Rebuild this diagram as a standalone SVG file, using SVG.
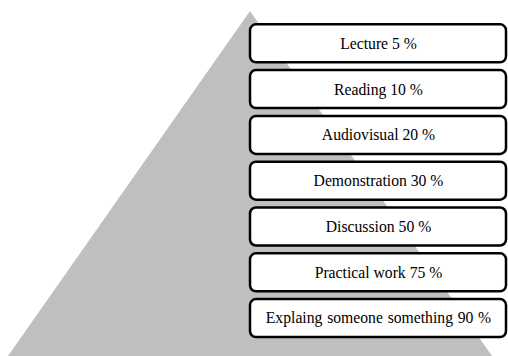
<svg xmlns="http://www.w3.org/2000/svg" width="508" height="356" viewBox="0 0 508 356">
  <style>
    .box { fill: #ffffff; stroke: #000000; stroke-width: 2.5; }
    .label { font-family: "Liberation Serif", "Times New Roman", serif; font-size: 15.7px; fill: #000000; text-anchor: middle; }
  </style>
  <rect x="0" y="0" width="508" height="356" fill="#ffffff"/>
  <!-- background pyramid -->
  <polygon id="pyramid" points="250,11 492,356 8,356" fill="#bfbfbf"/>
  <g id="connectors"></g>
  <g id="lecture">
    <rect class="box" x="250" y="24.3" width="256" height="38" rx="6"/>
    <text class="label" x="378.5" y="48.8">Lecture 5 %</text>
  </g>
  <g id="reading">
    <rect class="box" x="250" y="70.1" width="256" height="38" rx="6"/>
    <text class="label" x="378.5" y="94.6">Reading 10 %</text>
  </g>
  <g id="audiovisual">
    <rect class="box" x="250" y="115.9" width="256" height="38" rx="6"/>
    <text class="label" x="378.5" y="140.4">Audiovisual 20 %</text>
  </g>
  <g id="demonstration">
    <rect class="box" x="250" y="161.7" width="256" height="38" rx="6"/>
    <text class="label" x="378.5" y="186.2">Demonstration 30 %</text>
  </g>
  <g id="discussion">
    <rect class="box" x="250" y="207.5" width="256" height="38" rx="6"/>
    <text class="label" x="378.5" y="232">Discussion 50 %</text>
  </g>
  <g id="practical">
    <rect class="box" x="250" y="253.3" width="256" height="38" rx="6"/>
    <text class="label" x="378.5" y="277.8">Practical work 75 %</text>
  </g>
  <g id="explaining">
    <rect class="box" x="250" y="299.1" width="256" height="38" rx="6"/>
    <text class="label" x="378.5" y="323.4" word-spacing="0.8">Explaing someone something 90 %</text>
  </g>
</svg>
